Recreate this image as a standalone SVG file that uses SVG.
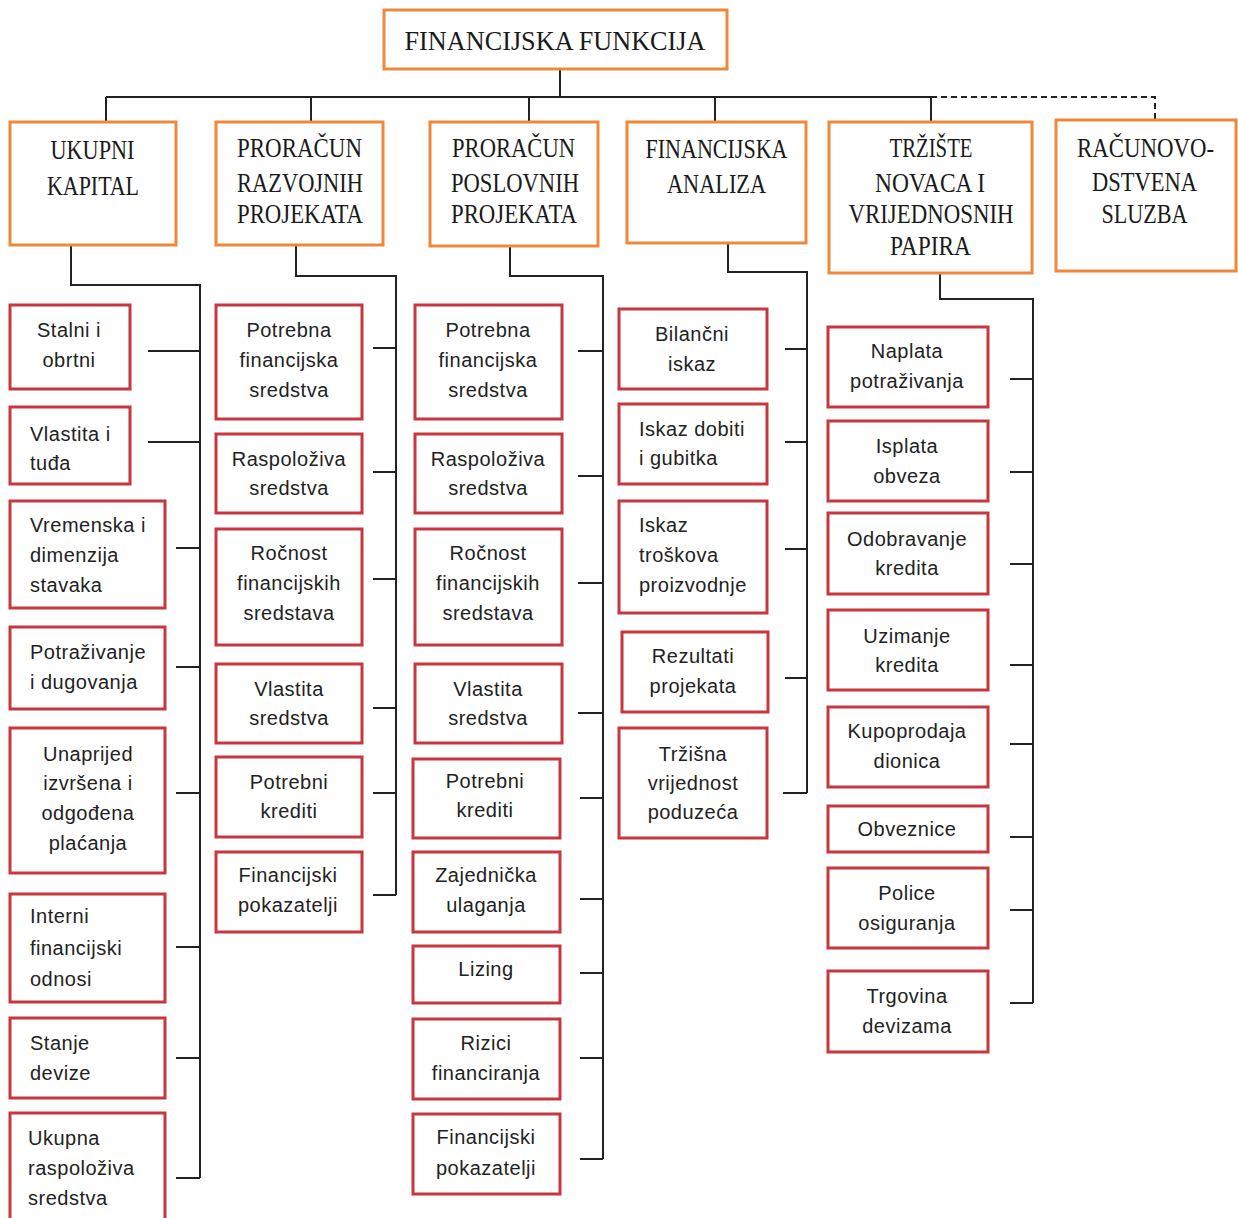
<svg xmlns="http://www.w3.org/2000/svg" width="1238" height="1218" viewBox="0 0 1238 1218">
<style>
.l1 rect{fill:#fff;stroke:#F0883C;stroke-width:3}
.ch rect{fill:#fff;stroke:#C8363E;stroke-width:3}
.st{font-family:"Liberation Serif","Times New Roman",serif;font-size:28px;fill:#1a1a1a;text-anchor:middle}
.ss{font-family:"Liberation Sans",Arial,sans-serif;font-size:20px;fill:#222;letter-spacing:0.5px}
.c{text-anchor:middle}
#connectors path{fill:none;stroke:#222;stroke-width:2}
#connectors path.dash{stroke-dasharray:6 4}
</style>
<rect width="1238" height="1218" fill="#fff"/>
<g id="connectors">
<path d="M560 69V97M106 97H931M106 97V122M311 97V122M529 97V122M715 97V122M931 97V122"/>
<path class="dash" d="M931 97H1155V120"/>
<path d="M71 245V285H200V1178M148 351H200M148 442H200M176 548H200M176 667H200M176 793H200M176 947H200M176 1058H200M176 1178H200"/>
<path d="M296 246V276H396V895M373 348H396M373 472H396M373 579H396M373 708H396M373 793H396M373 895H396"/>
<path d="M510 246V276H603V1159M578 351H603M578 476H603M578 583H603M578 713H603M580 798H603M580 899H603M580 973H603M580 1058H603M580 1159H603"/>
<path d="M728 243V272H807V793M785 349H807M785 442H807M785 549H807M785 678H807M783 793H807"/>
<path d="M940 273V299H1033V1003M1010 379H1033M1010 472H1033M1010 564H1033M1010 665H1033M1010 744H1033M1010 837H1033M1010 910H1033M1010 1003H1033"/>
</g>
<g id="root" class="l1"><rect x="384" y="10" width="343" height="59"/>
<text class="st" x="555" y="50" font-size="32" textLength="301" lengthAdjust="spacingAndGlyphs">FINANCIJSKA FUNKCIJA</text></g>
<g id="ukupni" class="l1"><rect x="10" y="122" width="166" height="123"/>
<text class="st" x="92.5" y="159" textLength="84" lengthAdjust="spacingAndGlyphs">UKUPNI</text>
<text class="st" x="93" y="195" textLength="92" lengthAdjust="spacingAndGlyphs">KAPITAL</text></g>
<g id="razvojni" class="l1"><rect x="216" y="122" width="167" height="123"/>
<text class="st" x="299.5" y="157" textLength="125" lengthAdjust="spacingAndGlyphs">PRORAČUN</text>
<text class="st" x="300" y="192" textLength="126" lengthAdjust="spacingAndGlyphs">RAZVOJNIH</text>
<text class="st" x="300" y="223" textLength="126" lengthAdjust="spacingAndGlyphs">PROJEKATA</text></g>
<g id="poslovni" class="l1"><rect x="430" y="122" width="168" height="124"/>
<text class="st" x="513.5" y="157" textLength="123" lengthAdjust="spacingAndGlyphs">PRORAČUN</text>
<text class="st" x="515" y="192" textLength="128" lengthAdjust="spacingAndGlyphs">POSLOVNIH</text>
<text class="st" x="514" y="223" textLength="126" lengthAdjust="spacingAndGlyphs">PROJEKATA</text></g>
<g id="analiza" class="l1"><rect x="627" y="122" width="179" height="121"/>
<text class="st" x="716.5" y="158" textLength="142" lengthAdjust="spacingAndGlyphs">FINANCIJSKA</text>
<text class="st" x="716.5" y="193" textLength="99" lengthAdjust="spacingAndGlyphs">ANALIZA</text></g>
<g id="trziste" class="l1"><rect x="829" y="122" width="203" height="151"/>
<text class="st" x="931" y="157" textLength="83" lengthAdjust="spacingAndGlyphs">TRŽIŠTE</text>
<text class="st" x="930" y="192" textLength="110" lengthAdjust="spacingAndGlyphs">NOVACA I</text>
<text class="st" x="931" y="223" textLength="165" lengthAdjust="spacingAndGlyphs">VRIJEDNOSNIH</text>
<text class="st" x="930.5" y="255" textLength="81" lengthAdjust="spacingAndGlyphs">PAPIRA</text></g>
<g id="racunovodstvo" class="l1"><rect x="1056" y="120" width="180" height="151"/>
<text class="st" x="1145.5" y="157" font-size="25" textLength="137" lengthAdjust="spacingAndGlyphs">RAČUNOVO-</text>
<text class="st" x="1144.5" y="191" textLength="105" lengthAdjust="spacingAndGlyphs">DSTVENA</text>
<text class="st" x="1144.5" y="223" textLength="86" lengthAdjust="spacingAndGlyphs">SLUZBA</text></g>

<g id="k1" class="ch"><rect x="10" y="305" width="120" height="84"/><text class="ss c" x="69"><tspan x="69" y="337">Stalni i</tspan><tspan x="69" y="367">obrtni</tspan></text></g>
<g id="k2" class="ch"><rect x="10" y="407" width="120" height="77"/><text class="ss"><tspan x="30" y="441">Vlastita i</tspan><tspan x="30" y="470">tuđa</tspan></text></g>
<g id="k3" class="ch"><rect x="10" y="501" width="155" height="107"/><text class="ss"><tspan x="30" y="532">Vremenska i</tspan><tspan x="30" y="562">dimenzija</tspan><tspan x="30" y="592">stavaka</tspan></text></g>
<g id="k4" class="ch"><rect x="10" y="627" width="155" height="82"/><text class="ss"><tspan x="30" y="659">Potraživanje</tspan><tspan x="30" y="689">i dugovanja</tspan></text></g>
<g id="k5" class="ch"><rect x="10" y="728" width="155" height="145"/><text class="ss c"><tspan x="88" y="761">Unaprijed</tspan><tspan x="88" y="790">izvršena i</tspan><tspan x="88" y="820">odgođena</tspan><tspan x="88" y="850">plaćanja</tspan></text></g>
<g id="k6" class="ch"><rect x="10" y="894" width="155" height="108"/><text class="ss"><tspan x="30" y="923">Interni</tspan><tspan x="30" y="955">financijski</tspan><tspan x="30" y="986">odnosi</tspan></text></g>
<g id="k7" class="ch"><rect x="10" y="1018" width="155" height="80"/><text class="ss"><tspan x="30" y="1050">Stanje</tspan><tspan x="30" y="1080">devize</tspan></text></g>
<g id="k8" class="ch"><rect x="10" y="1113" width="155" height="110"/><text class="ss"><tspan x="28" y="1145">Ukupna</tspan><tspan x="28" y="1175">raspoloživa</tspan><tspan x="28" y="1205">sredstva</tspan></text></g>

<g id="r1" class="ch"><rect x="216" y="305" width="146" height="114"/><text class="ss c"><tspan x="289" y="337">Potrebna</tspan><tspan x="289" y="367">financijska</tspan><tspan x="289" y="397">sredstva</tspan></text></g>
<g id="r2" class="ch"><rect x="216" y="434" width="146" height="79"/><text class="ss c"><tspan x="289" y="466">Raspoloživa</tspan><tspan x="289" y="495">sredstva</tspan></text></g>
<g id="r3" class="ch"><rect x="216" y="529" width="146" height="116"/><text class="ss c"><tspan x="289" y="560">Ročnost</tspan><tspan x="289" y="590">financijskih</tspan><tspan x="289" y="620">sredstava</tspan></text></g>
<g id="r4" class="ch"><rect x="216" y="664" width="146" height="79"/><text class="ss c"><tspan x="289" y="696">Vlastita</tspan><tspan x="289" y="725">sredstva</tspan></text></g>
<g id="r5" class="ch"><rect x="216" y="757" width="146" height="80"/><text class="ss c"><tspan x="289" y="789">Potrebni</tspan><tspan x="289" y="818">krediti</tspan></text></g>
<g id="r6" class="ch"><rect x="216" y="852" width="146" height="80"/><text class="ss c"><tspan x="288" y="882">Financijski</tspan><tspan x="288" y="912">pokazatelji</tspan></text></g>

<g id="p1" class="ch"><rect x="415" y="305" width="147" height="114"/><text class="ss c"><tspan x="488" y="337">Potrebna</tspan><tspan x="488" y="367">financijska</tspan><tspan x="488" y="397">sredstva</tspan></text></g>
<g id="p2" class="ch"><rect x="415" y="434" width="147" height="79"/><text class="ss c"><tspan x="488" y="466">Raspoloživa</tspan><tspan x="488" y="495">sredstva</tspan></text></g>
<g id="p3" class="ch"><rect x="415" y="529" width="147" height="116"/><text class="ss c"><tspan x="488" y="560">Ročnost</tspan><tspan x="488" y="590">financijskih</tspan><tspan x="488" y="620">sredstava</tspan></text></g>
<g id="p4" class="ch"><rect x="415" y="664" width="147" height="79"/><text class="ss c"><tspan x="488" y="696">Vlastita</tspan><tspan x="488" y="725">sredstva</tspan></text></g>
<g id="p5" class="ch"><rect x="413" y="759" width="147" height="79"/><text class="ss c"><tspan x="485" y="788">Potrebni</tspan><tspan x="485" y="817">krediti</tspan></text></g>
<g id="p6" class="ch"><rect x="413" y="852" width="147" height="80"/><text class="ss c"><tspan x="486" y="882">Zajednička</tspan><tspan x="486" y="912">ulaganja</tspan></text></g>
<g id="p7" class="ch"><rect x="413" y="946" width="147" height="57"/><text class="ss c"><tspan x="486" y="976">Lizing</tspan></text></g>
<g id="p8" class="ch"><rect x="413" y="1019" width="147" height="80"/><text class="ss c"><tspan x="486" y="1050">Rizici</tspan><tspan x="486" y="1080">financiranja</tspan></text></g>
<g id="p9" class="ch"><rect x="413" y="1114" width="147" height="80"/><text class="ss c"><tspan x="486" y="1144">Financijski</tspan><tspan x="486" y="1175">pokazatelji</tspan></text></g>

<g id="a1" class="ch"><rect x="619" y="309" width="148" height="80"/><text class="ss c"><tspan x="692" y="341">Bilančni</tspan><tspan x="692" y="371">iskaz</tspan></text></g>
<g id="a2" class="ch"><rect x="619" y="404" width="148" height="80"/><text class="ss"><tspan x="639" y="436">Iskaz dobiti</tspan><tspan x="639" y="465">i gubitka</tspan></text></g>
<g id="a3" class="ch"><rect x="619" y="501" width="148" height="112"/><text class="ss"><tspan x="639" y="532">Iskaz</tspan><tspan x="639" y="562">troškova</tspan><tspan x="639" y="592">proizvodnje</tspan></text></g>
<g id="a4" class="ch"><rect x="622" y="632" width="146" height="80"/><text class="ss c"><tspan x="693" y="663">Rezultati</tspan><tspan x="693" y="693">projekata</tspan></text></g>
<g id="a5" class="ch"><rect x="619" y="728" width="148" height="110"/><text class="ss c"><tspan x="693" y="761">Tržišna</tspan><tspan x="693" y="790">vrijednost</tspan><tspan x="693" y="819">poduzeća</tspan></text></g>

<g id="t1" class="ch"><rect x="828" y="327" width="160" height="80"/><text class="ss c"><tspan x="907" y="358">Naplata</tspan><tspan x="907" y="388">potraživanja</tspan></text></g>
<g id="t2" class="ch"><rect x="828" y="421" width="160" height="80"/><text class="ss c"><tspan x="907" y="453">Isplata</tspan><tspan x="907" y="483">obveza</tspan></text></g>
<g id="t3" class="ch"><rect x="828" y="513" width="160" height="81"/><text class="ss c"><tspan x="907" y="546">Odobravanje</tspan><tspan x="907" y="575">kredita</tspan></text></g>
<g id="t4" class="ch"><rect x="828" y="610" width="160" height="80"/><text class="ss c"><tspan x="907" y="643">Uzimanje</tspan><tspan x="907" y="672">kredita</tspan></text></g>
<g id="t5" class="ch"><rect x="828" y="707" width="160" height="80"/><text class="ss c"><tspan x="907" y="738">Kupoprodaja</tspan><tspan x="907" y="768">dionica</tspan></text></g>
<g id="t6" class="ch"><rect x="828" y="806" width="160" height="46"/><text class="ss c"><tspan x="907" y="836">Obveznice</tspan></text></g>
<g id="t7" class="ch"><rect x="828" y="868" width="160" height="80"/><text class="ss c"><tspan x="907" y="900">Police</tspan><tspan x="907" y="930">osiguranja</tspan></text></g>
<g id="t8" class="ch"><rect x="828" y="971" width="160" height="81"/><text class="ss c"><tspan x="907" y="1003">Trgovina</tspan><tspan x="907" y="1033">devizama</tspan></text></g>
</svg>
